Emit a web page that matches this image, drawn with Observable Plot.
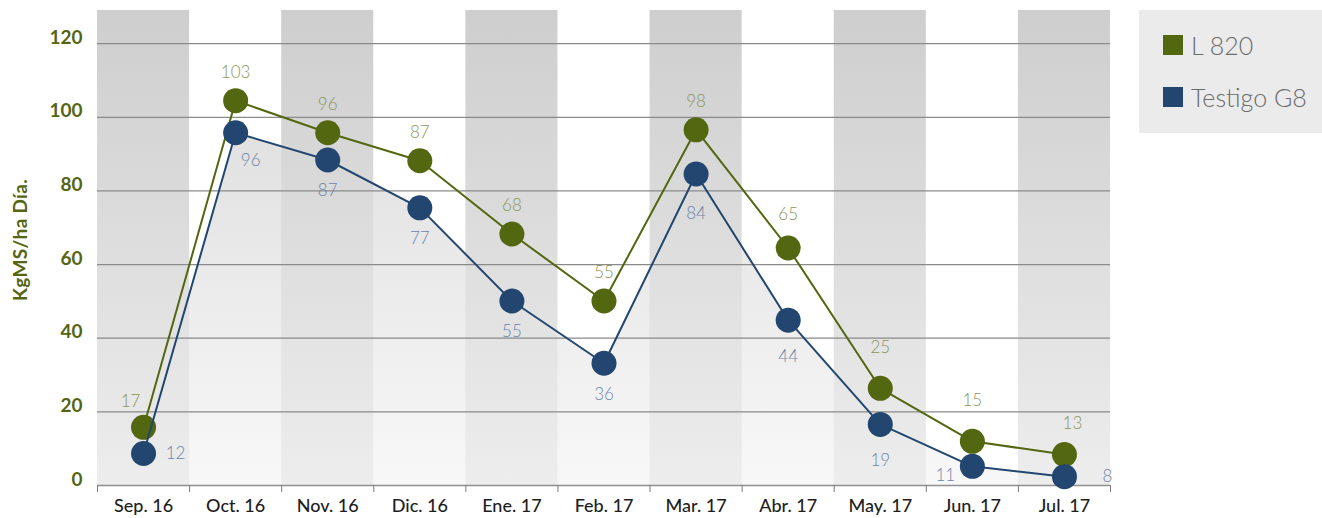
<!DOCTYPE html>
<html><head><meta charset="utf-8">
<script src="https://cdn.jsdelivr.net/npm/d3@7"></script>
<script src="https://cdn.jsdelivr.net/npm/@observablehq/plot@0.6"></script>
<style>
body{margin:0;background:#fff;font-family:Lato,"Open Sans",sans-serif;}
#wrap{position:relative;width:1322px;height:518px;overflow:hidden;}
#ytitle{position:absolute;left:19px;top:240px;transform:translate(-50%,-50%) rotate(-90deg);white-space:nowrap;font-family:Lato,sans-serif;font-weight:700;font-size:19px;letter-spacing:0.3px;color:#556512;}
#legend{position:absolute;left:1139px;top:10px;width:183px;height:123px;background:#ebebeb;}
.li{position:absolute;left:24px;display:flex;align-items:center;font-family:Lato,sans-serif;font-weight:300;font-size:25px;color:#6b6b6b;}
.sw{width:20px;height:20px;margin-right:8px;}
</style></head><body>
<div id="wrap"></div>
<script>
const months = ["Sep. 16","Oct. 16","Nov. 16","Dic. 16","Ene. 17","Feb. 17","Mar. 17","Abr. 17","May. 17","Jun. 17","Jul. 17"];
const seriesNames = ["L 820","Testigo G8"];
const seriesColors = ["#536610","#22466f"];
const labelColors = ["#8a9556","#6c85aa"];
const l820 = [15.8,104.5,95.8,88.2,68.3,50.1,96.6,64.5,26.4,12.0,8.4];
const l820Labels = [17,103,96,87,68,55,98,65,25,15,13];
const testigo = [8.7,95.8,88.4,75.4,50.1,33.2,84.6,44.9,16.6,5.2,2.4];
const testigoLabels = [12,96,87,77,55,36,84,44,19,11,8];
const yTicks = [0,20,40,60,80,100,120];
const yTitle = "KgMS/ha Día.";

const yMax = 129;
const idx = months.map((_, i) => i);
const odd = idx.filter(i => i % 2 === 0);
const rows = (vals, labs, s) => vals.map((v, i) => ({i, x: i + 0.5, v, lab: String(labs[i]), s}));
const A = rows(l820, l820Labels, seriesNames[0]);
const B = rows(testigo, testigoLabels, seriesNames[1]);
const font = "Lato, sans-serif";

function labelMark(data, color, filt, dx, dy) {
  return Plot.text(data.filter(filt), {x: "x", y: "v", text: "lab", dx, dy, fill: color, fontSize: 17, fontWeight: 300, fontFamily: font});
}

const chart = Plot.plot({
  width: 1322, height: 518,
  marginLeft: 97, marginRight: 212, marginTop: 10, marginBottom: 33,
  x: {domain: [0, 11], axis: null},
  y: {domain: [0, yMax], axis: null},
  marks: [
    Plot.areaY(B, {x: "x", y: "v", fill: "url(#gArea)"}),
    Plot.rect(odd, {x1: i => i, x2: i => i + 1, y1: 0, y2: yMax, fill: "url(#gOdd)"}),
    Plot.ruleY(yTicks.filter(d => d > 0), {stroke: "#8a8a8a", strokeWidth: 1.2}),
    Plot.ruleY([0], {stroke: "#8f8f8f", strokeWidth: 1.5}),
    Plot.axisX({ticks: d3.range(0, 12), tickSize: 7, tickFormat: () => "", stroke: "#7a7a7a", label: null}),
    Plot.axisX({ticks: idx.map(i => i + 0.5), tickSize: 0, tickPadding: 14, tickFormat: d => months[Math.floor(d)], fontSize: 18, fontWeight: 500, fontFamily: font, fill: "#1e1e1e", label: null}),
    Plot.text(yTicks, {y: d => d, text: d => String(d), frameAnchor: "left", textAnchor: "end", dx: -15, dy: -6, fontSize: 19, fontWeight: 700, fontFamily: font, fill: "#556512"}),
    Plot.line(A, {x: "x", y: "v", stroke: seriesColors[0], strokeWidth: 2}),
    Plot.dot(A, {x: "x", y: "v", r: 12.5, fill: seriesColors[0]}),
    Plot.line(B, {x: "x", y: "v", stroke: seriesColors[1], strokeWidth: 2}),
    Plot.dot(B, {x: "x", y: "v", r: 12.5, fill: seriesColors[1]}),
    labelMark(A, labelColors[0], d => d.i === 0, -13, -26),
    labelMark(A, labelColors[0], d => [1,2,3,4,5,6].includes(d.i), 0, -28),
    labelMark(A, labelColors[0], d => d.i === 10, 8, -31),
    labelMark(A, labelColors[0], d => d.i === 7, 0, -33),
    labelMark(A, labelColors[0], d => [8,9].includes(d.i), 0, -41),
    labelMark(B, labelColors[1], d => d.i === 0, 32, 0),
    labelMark(B, labelColors[1], d => d.i === 1, 15, 28),
    labelMark(B, labelColors[1], d => [2,3,4,5].includes(d.i), 0, 31),
    labelMark(B, labelColors[1], d => [6].includes(d.i), 0, 40),
    labelMark(B, labelColors[1], d => [7,8].includes(d.i), 0, 36),
    labelMark(B, labelColors[1], d => d.i === 9, -27, 9),
    labelMark(B, labelColors[1], d => d.i === 10, 43, 0)
  ]
});

const defs = document.createElementNS("http://www.w3.org/2000/svg", "defs");
defs.innerHTML = `
<linearGradient id="gOdd" x1="0" y1="0" x2="0" y2="1">
  <stop offset="0" stop-color="#cecece"/><stop offset="1" stop-color="#ededed"/>
</linearGradient>
<linearGradient id="gArea" x1="0" y1="0" x2="0" y2="1">
  <stop offset="0" stop-color="#e1e1e1"/><stop offset="1" stop-color="#f8f8f8"/>
</linearGradient>`;
chart.prepend(defs);

const wrap = document.getElementById("wrap");
wrap.appendChild(chart);

const t = document.createElement("div");
t.id = "ytitle"; t.textContent = yTitle; wrap.appendChild(t);

const lg = document.createElement("div");
lg.id = "legend";
seriesNames.forEach((n, k) => {
  const it = document.createElement("div");
  it.className = "li";
  it.style.top = (k === 0 ? 20 : 72) + "px";
  it.innerHTML = `<span class="sw" style="background:${seriesColors[k]}"></span><span>${n}</span>`;
  lg.appendChild(it);
});
wrap.appendChild(lg);
</script>
</body></html>
